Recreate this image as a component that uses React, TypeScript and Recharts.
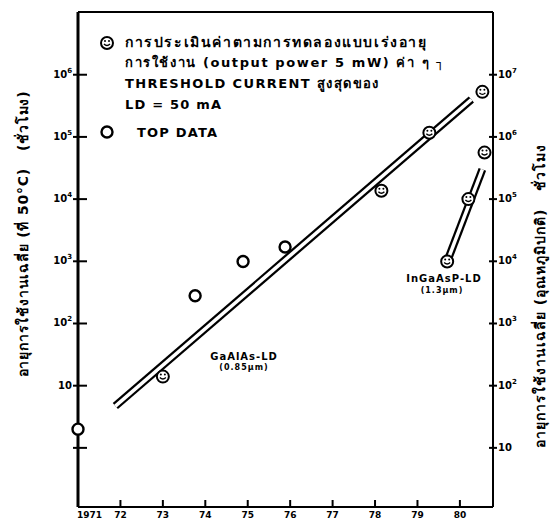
import React from 'react';
import { ComposedChart, Line, Scatter, XAxis, YAxis, ReferenceLine } from 'recharts';

// x axis: year
const yearTicks = [1971, 1972, 1973, 1974, 1975, 1976, 1977, 1978, 1979, 1980];
const yearLabels = ['1971', '72', '73', '74', '75', '76', '77', '78', '79', '80'];

// left axis: mean life at 50°C (hours)
const leftTicks = [1, 10, 100, 1000, 10000, 100000, 1000000];
const leftExp = ['', '', '2', '3', '4', '5', '6'];

// right axis: mean life at room temperature (hours)
const rightTicks = [10, 100, 1000, 10000, 100000, 1000000, 10000000];
const rightExp = ['', '2', '3', '4', '5', '6', '7'];

// GaAlAs-LD (0.85um), left axis
const topYears = [1971.0, 1973.76, 1974.89, 1975.88];
const topHours = [2.0, 280, 990, 1700];
const estYears = [1973.0, 1978.15, 1979.28, 1980.53];
const estHours = [14, 13600, 117000, 530000];
const gaalasFitYears = [1971.88, 1980.27];
const gaalasFitHours = [4.7, 400000];

// InGaAsP-LD (1.3um), right axis
const ingaaspYears = [1979.7, 1980.2, 1980.58];
const ingaaspHours = [9900, 100000, 560000];
const ingaaspFitYears = [1979.7, 1980.53];
const ingaaspFitHours = [9900, 300000];

const zip = (xs: number[], ys: number[]) => xs.map((year, i) => ({ year, hours: ys[i] }));

const topData = zip(topYears, topHours);
const estData = zip(estYears, estHours);
const gaalasFit = zip(gaalasFitYears, gaalasFitHours);
const ingaaspData = zip(ingaaspYears, ingaaspHours);
const ingaaspFit = zip(ingaaspFitYears, ingaaspFitHours);

const FONT = "'DejaVu Sans', 'Noto Sans', sans-serif";

const OpenDot = ({ cx, cy }: any) => (
  <circle cx={cx} cy={cy} r={5.5} fill="#fff" stroke="#000" strokeWidth={2.4} />
);

const EstDot = ({ cx, cy }: any) => (
  <g>
    <circle cx={cx} cy={cy} r={6} fill="#fff" stroke="#000" strokeWidth={2} />
    <path d={`M${cx - 3},${cy + 1} Q${cx},${cy + 4} ${cx + 3},${cy + 1}`} fill="none" stroke="#000" strokeWidth={1.4} />
    <circle cx={cx - 2} cy={cy - 2} r={1} fill="#000" />
    <circle cx={cx + 2} cy={cy - 2} r={1} fill="#000" />
  </g>
);

const Pow = ({ x, y, exp, anchor }: any) => (
  <text x={x} y={y} textAnchor={anchor} dominantBaseline="middle" fontFamily={FONT} fontWeight="bold" fontSize={10} fill="#000">
    10{exp ? <tspan dy={-4} fontSize={7}>{exp}</tspan> : null}
  </text>
);

const LeftTick = ({ x, y, payload, index }: any) => (
  <g>
    <line x1={x - 5} x2={x + 9} y1={y} y2={y} stroke="#000" strokeWidth={2} />
    {payload.value >= 10 ? <Pow x={x - 6} y={y} exp={leftExp[index]} anchor="end" /> : null}
  </g>
);

const RightTick = ({ x, y, index }: any) => (
  <g>
    <line x1={x - 4} x2={x + 4} y1={y} y2={y} stroke="#000" strokeWidth={2} />
    <Pow x={x + 5} y={y} exp={rightExp[index]} anchor="start" />
  </g>
);

const BottomTick = ({ x, y, index }: any) => (
  <g>
    {index > 0 ? <line x1={x} x2={x} y1={y} y2={y - 7} stroke="#000" strokeWidth={2} /> : null}
    <text x={index === 0 ? x - 1 : x} y={y + 8} textAnchor={index === 0 ? 'start' : 'middle'} dominantBaseline="middle"
      fontFamily={FONT} fontWeight="bold" fontSize={9} fill="#000">
      {yearLabels[index]}
    </text>
  </g>
);

const txt = (extra: React.CSSProperties): React.CSSProperties => ({
  position: 'absolute',
  fontFamily: FONT,
  fontWeight: 'bold',
  color: '#000',
  whiteSpace: 'nowrap',
  lineHeight: 1,
  ...extra,
});

export default function App() {
  return (
    <div style={{ position: 'absolute', left: 0, top: 0, width: 550, height: 518, background: '#fff', overflow: 'hidden' }}>
      <ComposedChart width={550} height={518} margin={{ top: 12, right: 7, bottom: 0, left: 28 }}>
        <XAxis
          dataKey="year"
          type="number"
          domain={[1971, 1980.78]}
          ticks={yearTicks}
          height={11}
          tickSize={0}
          tickMargin={0}
          tickLine={false}
          tick={<BottomTick />}
          axisLine={{ stroke: '#000', strokeWidth: 2 }}
        />
        <YAxis
          yAxisId="left"
          type="number"
          scale="log"
          domain={[0.112, 1.02e7]}
          ticks={leftTicks}
          width={50}
          tickSize={0}
          tickMargin={0}
          tickLine={false}
          tick={<LeftTick />}
          axisLine={{ stroke: '#000', strokeWidth: 3 }}
        />
        <YAxis
          yAxisId="right"
          orientation="right"
          type="number"
          scale="log"
          domain={[1.12, 1.02e8]}
          ticks={rightTicks}
          width={50}
          tickSize={0}
          tickMargin={0}
          tickLine={false}
          tick={<RightTick />}
          axisLine={{ stroke: '#000', strokeWidth: 2 }}
        />
        <ReferenceLine yAxisId="left" y={1.02e7} stroke="#000" strokeWidth={2} />

        <Line yAxisId="left" data={gaalasFit} dataKey="hours" stroke="#000" strokeWidth={8} dot={false} isAnimationActive={false} />
        <Line yAxisId="left" data={gaalasFit} dataKey="hours" stroke="#fff" strokeWidth={3.5} dot={false} isAnimationActive={false} />
        <Line yAxisId="right" data={ingaaspFit} dataKey="hours" stroke="#000" strokeWidth={8} dot={false} isAnimationActive={false} />
        <Line yAxisId="right" data={ingaaspFit} dataKey="hours" stroke="#fff" strokeWidth={3.5} dot={false} isAnimationActive={false} />

        <Scatter yAxisId="left" data={topData} dataKey="hours" shape={<OpenDot />} isAnimationActive={false} />
        <Scatter yAxisId="left" data={estData} dataKey="hours" shape={<EstDot />} isAnimationActive={false} />
        <Scatter yAxisId="right" data={ingaaspData} dataKey="hours" shape={<EstDot />} isAnimationActive={false} />
      </ComposedChart>

      {/* legend */}
      <svg style={{ position: 'absolute', left: 0, top: 0 }} width={550} height={518} pointerEvents="none">
        <EstDot cx={107} cy={43} />
        <OpenDot cx={107} cy={132} />
      </svg>
      <div style={txt({ left: 125, top: 35, fontSize: 14, letterSpacing: 1.6 })}>การประเมินค่าตามการทดลองแบบเร่งอายุ</div>
      <div style={txt({ left: 125, top: 56, fontSize: 13, letterSpacing: 1.6 })}>การใช้งาน (output power 5 mW) ค่า ๆ ┐</div>
      <div style={txt({ left: 125, top: 77, fontSize: 13, letterSpacing: 1.4 })}>THRESHOLD CURRENT สูงสุดของ</div>
      <div style={txt({ left: 125, top: 98, fontSize: 13, letterSpacing: 1.2 })}>LD = 50 mA</div>
      <div style={txt({ left: 137, top: 126, fontSize: 13, letterSpacing: 1.2 })}>TOP DATA</div>

      {/* series labels */}
      <div style={txt({ left: 244, top: 357, fontSize: 10, letterSpacing: 1, transform: 'translate(-50%, -50%)' })}>GaAlAs-LD</div>
      <div style={txt({ left: 244, top: 368, fontSize: 8, letterSpacing: 1, transform: 'translate(-50%, -50%)' })}>(0.85µm)</div>
      <div style={txt({ left: 444, top: 279, fontSize: 10, letterSpacing: 1, transform: 'translate(-50%, -50%)' })}>InGaAsP-LD</div>
      <div style={txt({ left: 442, top: 291, fontSize: 8, letterSpacing: 1, transform: 'translate(-50%, -50%)' })}>(1.3µm)</div>

      {/* axis titles */}
      <div style={txt({ left: 23, top: 234, fontSize: 14, letterSpacing: 0.8, transform: 'translate(-50%, -50%) rotate(-90deg)' })}>
        อายุการใช้งานเฉลี่ย (ที่ 50°C)&nbsp;&nbsp;&nbsp;(ชั่วโมง)
      </div>
      <div style={txt({ left: 540, top: 296, fontSize: 14, letterSpacing: 1, transform: 'translate(-50%, -50%) rotate(-90deg)' })}>
        อายุการใช้งานเฉลี่ย (อุณหภูมิปกติ)&nbsp;&nbsp;&nbsp;ชั่วโมง
      </div>
    </div>
  );
}
